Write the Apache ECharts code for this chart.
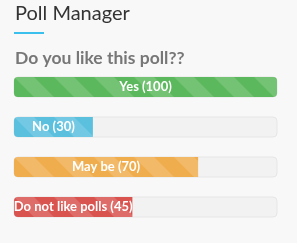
<!DOCTYPE html>
<html><head><meta charset="utf-8">
<script src="https://cdn.jsdelivr.net/npm/echarts@6/dist/echarts.min.js"></script>
<style>html,body{margin:0;padding:0;background:#f8f8f8;}#c{width:297px;height:243px;}</style>
</head><body><div id="c"></div>
<script>
const categories = ['Yes', 'No', 'May be', 'Do not like polls'];
const votes = [100, 30, 70, 45];
const barColors = ['#5cb85c', '#5bc0de', '#f0ad4e', '#d9534f'];
const maxVotes = 100;

function stripe(base) {
  const c = document.createElement('canvas');
  c.width = 40; c.height = 40;
  const g = c.getContext('2d');
  g.fillStyle = base; g.fillRect(0, 0, 40, 40);
  g.fillStyle = 'rgba(255,255,255,0.15)';
  g.beginPath(); g.moveTo(0,0); g.lineTo(20,0); g.lineTo(40,20); g.lineTo(40,40); g.closePath(); g.fill();
  g.beginPath(); g.moveTo(0,20); g.lineTo(20,40); g.lineTo(0,40); g.closePath(); g.fill();
  return c;
}

const chart = echarts.init(document.getElementById('c'), null, {renderer: 'canvas'});
const data = votes.map((v, i) => ({
  value: v,
  itemStyle: {
    color: {image: stripe(barColors[i]), repeat: 'repeat', x: 14, y: 77},
    borderRadius: v >= maxVotes ? 4 : [4, 0, 0, 4]
  }
}));
chart.setOption({
  animation: false,
  backgroundColor: '#f8f8f8',
  title: [
    {text: 'Poll Manager', left: 15, top: 4, padding: 0, textStyle: {fontFamily: 'Lato', fontWeight: 'normal', fontSize: 20, color: '#333'}},
    {text: 'Do you like this poll??', left: 15, top: 49.5, padding: 0, textStyle: {fontFamily: 'Lato', fontWeight: 'bold', fontSize: 17.5, color: '#777'}}
  ],
  graphic: [{type: 'rect', shape: {x: 14, y: 32, width: 30, height: 2}, style: {fill: '#3bbfec'}}],
  grid: {left: 14, width: 263, top: 67, height: 160},
  xAxis: {type: 'value', min: 0, max: maxVotes, show: false},
  yAxis: {type: 'category', data: categories, inverse: true, show: false},
  series: [{
    type: 'bar',
    data: data,
    barWidth: 20,
    showBackground: true,
    backgroundStyle: {color: '#f2f2f2', borderColor: '#e6e6e6', borderWidth: 1, borderRadius: 4},
    label: {
      show: true, position: 'inside',
      formatter: p => p.name + ' (' + p.value + ')',
      color: '#fff', fontFamily: 'Lato', fontWeight: 'bold', fontSize: 13
    }
  }]
});
</script></body></html>
